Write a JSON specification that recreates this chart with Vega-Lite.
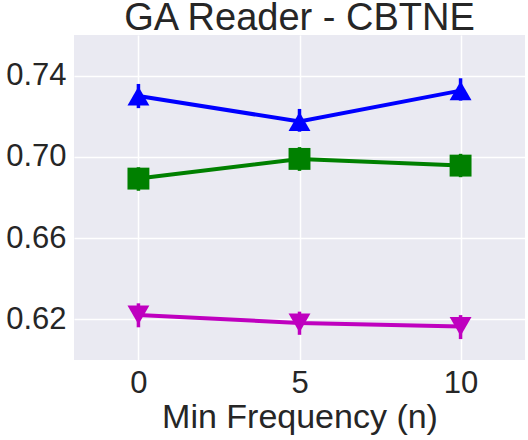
{
  "$schema": "https://vega.github.io/schema/vega-lite/v6.json",
  "autosize": {"type": "none"},
  "width": 451,
  "height": 325,
  "padding": {"left": 74, "top": 35, "right": 3, "bottom": 80},
  "background": "white",
  "title": {"text": "GA Reader - CBTNE", "fontSize": 38, "font": "Liberation Sans", "fontWeight": "normal", "color": "#262626", "offset": 3, "dy": 6},
  "config": {
    "view": {"fill": "#EAEAF2", "stroke": null},
    "axis": {"gridColor": "white", "gridWidth": 1.5, "domain": false, "ticks": false, "labelFont": "Liberation Sans", "titleFont": "Liberation Sans", "labelColor": "#262626", "titleColor": "#262626", "titleFontWeight": "normal"}
  },
  "data": {"values": [
    {"series": "A", "n": 0, "acc": 0.7300, "lo": 0.7240, "hi": 0.7359},
    {"series": "A", "n": 5, "acc": 0.7174, "lo": 0.7124, "hi": 0.7236},
    {"series": "A", "n": 10, "acc": 0.7326, "lo": 0.7277, "hi": 0.7387},
    {"series": "B", "n": 0, "acc": 0.6893, "lo": 0.6833, "hi": 0.6949},
    {"series": "B", "n": 5, "acc": 0.6990, "lo": 0.6931, "hi": 0.7048},
    {"series": "B", "n": 10, "acc": 0.6957, "lo": 0.6900, "hi": 0.7015},
    {"series": "C", "n": 0, "acc": 0.6222, "lo": 0.6161, "hi": 0.6279},
    {"series": "C", "n": 5, "acc": 0.6182, "lo": 0.6124, "hi": 0.6238},
    {"series": "C", "n": 10, "acc": 0.6165, "lo": 0.6103, "hi": 0.6221}
  ]},
  "encoding": {
    "x": {"field": "n", "type": "quantitative", "scale": {"domain": [-2, 12], "nice": false, "zero": false},
      "axis": {"values": [0, 5, 10], "title": "Min Frequency (n)", "labelFontSize": 31, "labelPadding": 8, "titleFontSize": 34, "titlePadding": 2, "labelFlush": false}},
    "color": {"field": "series", "type": "nominal", "scale": {"domain": ["A", "B", "C"], "range": ["#0000FF", "#008000", "#BF00BF"]}, "legend": null}
  },
  "layer": [
    {"mark": {"type": "rule", "strokeWidth": 3.5},
     "encoding": {"y": {"field": "lo", "type": "quantitative"}, "y2": {"field": "hi"}}},
    {"mark": {"type": "line", "strokeWidth": 4},
     "encoding": {"y": {"field": "acc", "type": "quantitative", "scale": {"domain": [0.60, 0.76], "nice": false, "zero": false},
       "axis": {"values": [0.62, 0.66, 0.70, 0.74], "format": ".2f", "title": null, "labelFontSize": 31, "labelPadding": 8}}}},
    {"mark": {"type": "point", "filled": true, "opacity": 1, "size": 480},
     "encoding": {"y": {"field": "acc", "type": "quantitative"},
       "shape": {"field": "series", "type": "nominal", "scale": {"domain": ["A", "B", "C"], "range": ["triangle-up", "square", "triangle-down"]}, "legend": null}}}
  ]
}
